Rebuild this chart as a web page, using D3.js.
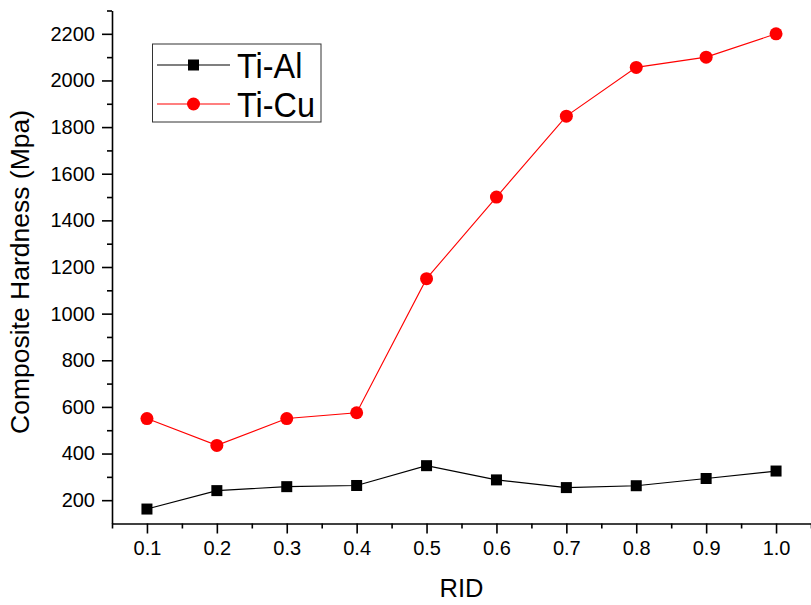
<!DOCTYPE html>
<html>
<head>
<meta charset="utf-8">
<script src="https://cdn.jsdelivr.net/npm/d3@7"></script>
<style>
  html, body { margin: 0; padding: 0; background: #fff; }
  svg { display: block; font-family: "Liberation Sans", Arial, sans-serif; }
</style>
</head>
<body>
<svg id="chart" width="811" height="605"></svg>
<script>
// RID values on the x axis
const rid = [0.1, 0.2, 0.3, 0.4, 0.5, 0.6, 0.7, 0.8, 0.9, 1.0];
// Composite hardness (MPa) for each composite
const tiAl = [162, 241, 258, 263, 348, 287, 254, 262, 293, 325];
const tiCu = [550, 435, 550, 575, 1150, 1500, 1847, 2056, 2100, 2200];
const seriesNames = ["Ti-Al", "Ti-Cu"];

const xMajor = [0.1, 0.2, 0.3, 0.4, 0.5, 0.6, 0.7, 0.8, 0.9, 1.0];
const xMinor = [0.05, 0.15, 0.25, 0.35, 0.45, 0.55, 0.65, 0.75, 0.85, 0.95, 1.05];
const yMajor = [200, 400, 600, 800, 1000, 1200, 1400, 1600, 1800, 2000, 2200];
const yMinor = [300, 500, 700, 900, 1100, 1300, 1500, 1700, 1900, 2100, 2300];

const svg = d3.select("#chart");
const plot = { left: 112, right: 811, top: 10.5, bottom: 523.5 };

const x = d3.scaleLinear().domain([0.05, 1.05]).range([plot.left, plot.right]);
const y = d3.scaleLinear().domain([100, 2300]).range([plot.bottom, plot.top]);

// minor ticks
svg.append("g")
  .attr("transform", `translate(0,${plot.bottom})`)
  .call(d3.axisBottom(x).tickValues(xMinor).tickSize(5).tickFormat(""))
  .call(g => g.select(".domain").remove())
  .call(g => g.selectAll("line").attr("stroke", "#000").attr("stroke-width", 1.6));
svg.append("g")
  .attr("transform", `translate(${plot.left},0)`)
  .call(d3.axisLeft(y).tickValues(yMinor).tickSize(5).tickFormat(""))
  .call(g => g.select(".domain").remove())
  .call(g => g.selectAll("line").attr("stroke", "#000").attr("stroke-width", 1.6));

// major ticks and labels
const xAxis = svg.append("g")
  .attr("transform", `translate(0,${plot.bottom})`)
  .call(d3.axisBottom(x).tickValues(xMajor).tickSize(10).tickPadding(7)
    .tickSizeOuter(0).tickFormat(d3.format(".1f")));
const yAxis = svg.append("g")
  .attr("transform", `translate(${plot.left},0)`)
  .call(d3.axisLeft(y).tickValues(yMajor).tickSize(10).tickPadding(7)
    .tickSizeOuter(0).tickFormat(d3.format("d")));

[xAxis, yAxis].forEach(g => {
  g.select(".domain").attr("stroke", "#000").attr("stroke-width", 1.6);
  g.selectAll(".tick line").attr("stroke", "#000").attr("stroke-width", 1.6);
  g.selectAll(".tick text")
    .attr("fill", "#000")
    .style("font-size", "20px")
    .style("font-family", "'Liberation Sans', Arial, sans-serif");
});

// axis titles
svg.append("text")
  .attr("x", (plot.left + plot.right) / 2)
  .attr("y", 597)
  .attr("text-anchor", "middle")
  .style("font-size", "25.5px")
  .text("RID");
svg.append("text")
  .attr("transform", `translate(29,${(plot.top + plot.bottom) / 2 + 5}) rotate(-90)`)
  .attr("text-anchor", "middle")
  .style("font-size", "26.5px")
  .text("Composite Hardness (Mpa)");

const line = d3.line().x((d, i) => x(rid[i])).y(d => y(d));

// Ti-Cu series
svg.append("path").datum(tiCu)
  .attr("d", line).attr("fill", "none")
  .attr("stroke", "#ff0000").attr("stroke-width", 1.1);
svg.append("g").selectAll("circle").data(tiCu).join("circle")
  .attr("cx", (d, i) => x(rid[i])).attr("cy", d => y(d))
  .attr("r", 6.5).attr("fill", "#ff0000");

// Ti-Al series
svg.append("path").datum(tiAl)
  .attr("d", line).attr("fill", "none")
  .attr("stroke", "#000").attr("stroke-width", 1.2);
svg.append("g").selectAll("rect").data(tiAl).join("rect")
  .attr("x", (d, i) => x(rid[i]) - 5.5).attr("y", d => y(d) - 5.5)
  .attr("width", 11).attr("height", 11).attr("fill", "#000");

// legend
const lg = svg.append("g");
lg.append("rect")
  .attr("x", 152.5).attr("y", 44).attr("width", 168.5).attr("height", 78)
  .attr("fill", "#fff").attr("stroke", "#333").attr("stroke-width", 1);
const legendRows = [
  { name: seriesNames[0], color: "#000", cy: 65, shape: "square" },
  { name: seriesNames[1], color: "#ff0000", cy: 104, shape: "circle" }
];
legendRows.forEach(r => {
  lg.append("line")
    .attr("x1", 157).attr("x2", 230).attr("y1", r.cy).attr("y2", r.cy)
    .attr("stroke", r.color).attr("stroke-width", 1.2);
  if (r.shape === "square") {
    lg.append("rect").attr("x", 193.5 - 5.5).attr("y", r.cy - 5.5)
      .attr("width", 11).attr("height", 11).attr("fill", r.color);
  } else {
    lg.append("circle").attr("cx", 193.5).attr("cy", r.cy).attr("r", 6.5)
      .attr("fill", r.color);
  }
  // slightly condensed legend lettering
  lg.append("text")
    .attr("transform", `translate(237,${r.cy + 13}) scale(0.9,1)`)
    .style("font-size", "36px")
    .text(r.name);
});
</script>
</body>
</html>
